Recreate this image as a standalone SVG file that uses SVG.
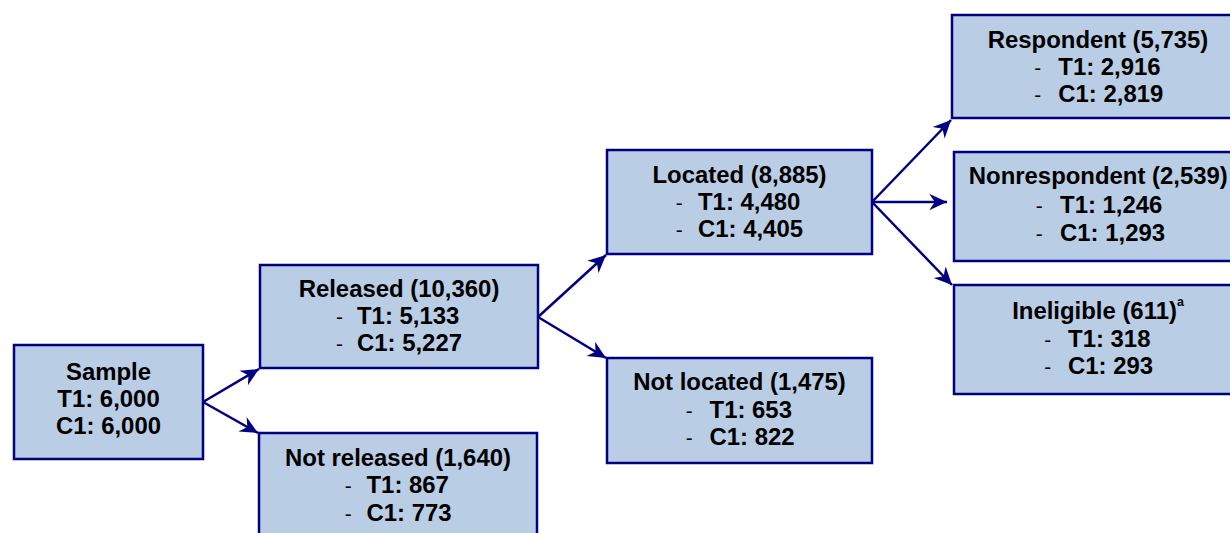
<svg xmlns="http://www.w3.org/2000/svg" width="1230" height="533" viewBox="0 0 1230 533">
<defs>
<style>
.box{fill:#B9CDE5;stroke:#000080;stroke-width:2.5}
.edge{stroke:#000080;stroke-width:2.5;fill:none}
text{font-family:"Liberation Sans",Arial,sans-serif;fill:#000}
.t{font-size:23px;font-weight:bold}
.c{text-anchor:middle}
.d{font-size:20px;font-weight:normal}
.sup{font-size:12px;font-weight:bold}
</style>
<marker id="ah" markerUnits="userSpaceOnUse" markerWidth="20" markerHeight="20" viewBox="-17 -9 18 18" refX="0" refY="0" orient="auto">
<path d="M0,0 L-16,-7.5 L-11,0 L-16,7.5 Z" fill="#000080"/>
</marker>
</defs>
<rect width="1230" height="533" fill="#fff"/>
<g id="connectors">
<line class="edge" x1="203" y1="402" x2="259" y2="369" marker-end="url(#ah)"/>
<line class="edge" x1="203" y1="402" x2="258" y2="433" marker-end="url(#ah)"/>
<line class="edge" x1="538" y1="317" x2="606" y2="255" marker-end="url(#ah)"/>
<line class="edge" x1="538" y1="317" x2="606" y2="358" marker-end="url(#ah)"/>
<line class="edge" x1="872" y1="202" x2="951" y2="120" marker-end="url(#ah)"/>
<line class="edge" x1="872" y1="202" x2="947" y2="202" marker-end="url(#ah)"/>
<line class="edge" x1="872" y1="202" x2="952" y2="285" marker-end="url(#ah)"/>
</g>
<g id="sample">
<rect class="box" x="14" y="345" width="189" height="114"/>
<g transform="translate(108.5 0) scale(1.04 1)">
<text class="t c" x="0" y="380">Sample</text>
<text class="t c" x="0" y="407">T1: 6,000</text>
<text class="t c" x="0" y="434">C1: 6,000</text>
</g>
</g>
<g id="released">
<rect class="box" x="260" y="265" width="278" height="103"/>
<g transform="translate(399 0) scale(1.04 1)">
<text class="t c" x="0" y="297.5">Released (10,360)</text>
<text class="d" x="-60.6" y="324.5">-</text>
<text class="t" x="-40.4" y="324.5">T1: 5,133</text>
<text class="d" x="-60.6" y="351.5">-</text>
<text class="t" x="-40.4" y="351.5">C1: 5,227</text>
</g>
</g>
<g id="not-released">
<rect class="box" x="259" y="433" width="278" height="104"/>
<g transform="translate(398 0) scale(1.04 1)">
<text class="t c" x="0" y="466">Not released (1,640)</text>
<text class="d" x="-51.2" y="493.3">-</text>
<text class="t" x="-30.3" y="493.3">T1: 867</text>
<text class="d" x="-51.2" y="521">-</text>
<text class="t" x="-30.3" y="521">C1: 773</text>
</g>
</g>
<g id="located">
<rect class="box" x="607" y="150" width="265" height="104"/>
<g transform="translate(739.5 0) scale(1.04 1)">
<text class="t c" x="0" y="183.3">Located (8,885)</text>
<text class="d" x="-61.3" y="210.3">-</text>
<text class="t" x="-39.9" y="210.3">T1: 4,480</text>
<text class="d" x="-61.3" y="237.3">-</text>
<text class="t" x="-39.9" y="237.3">C1: 4,405</text>
</g>
</g>
<g id="not-located">
<rect class="box" x="607" y="358" width="265" height="105"/>
<g transform="translate(739.5 0) scale(1.04 1)">
<text class="t c" x="0" y="390">Not located (1,475)</text>
<text class="d" x="-51.6" y="418">-</text>
<text class="t" x="-28.8" y="418">T1: 653</text>
<text class="d" x="-51.6" y="445.5">-</text>
<text class="t" x="-28.8" y="445.5">C1: 822</text>
</g>
</g>
<g id="respondent">
<rect class="box" x="952" y="15" width="292" height="103"/>
<g transform="translate(1098 0) scale(1.04 1)">
<text class="t c" x="0" y="48.3">Respondent (5,735)</text>
<text class="d" x="-61.4" y="75">-</text>
<text class="t" x="-38.2" y="75">T1: 2,916</text>
<text class="d" x="-61.4" y="101.7">-</text>
<text class="t" x="-38.2" y="101.7">C1: 2,819</text>
</g>
</g>
<g id="nonrespondent">
<rect class="box" x="954" y="152" width="292" height="109"/>
<g transform="translate(1098.3 0) scale(1.04 1)">
<text class="t c" x="0" y="184.3">Nonrespondent (2,539)</text>
<text class="d" x="-60.1" y="213.3">-</text>
<text class="t" x="-36.8" y="213.3">T1: 1,246</text>
<text class="d" x="-60.1" y="240.7">-</text>
<text class="t" x="-36.8" y="240.7">C1: 1,293</text>
</g>
</g>
<g id="ineligible">
<rect class="box" x="954" y="285" width="292" height="109"/>
<g transform="translate(1098 0) scale(1.04 1)">
<text class="t c" x="0" y="319.3">Ineligible (611)<tspan class="sup" dy="-13.3">a</tspan></text>
<text class="d" x="-51.8" y="346.7">-</text>
<text class="t" x="-28.8" y="346.7">T1: 318</text>
<text class="d" x="-51.8" y="374">-</text>
<text class="t" x="-28.8" y="374">C1: 293</text>
</g>
</g>
</svg>
